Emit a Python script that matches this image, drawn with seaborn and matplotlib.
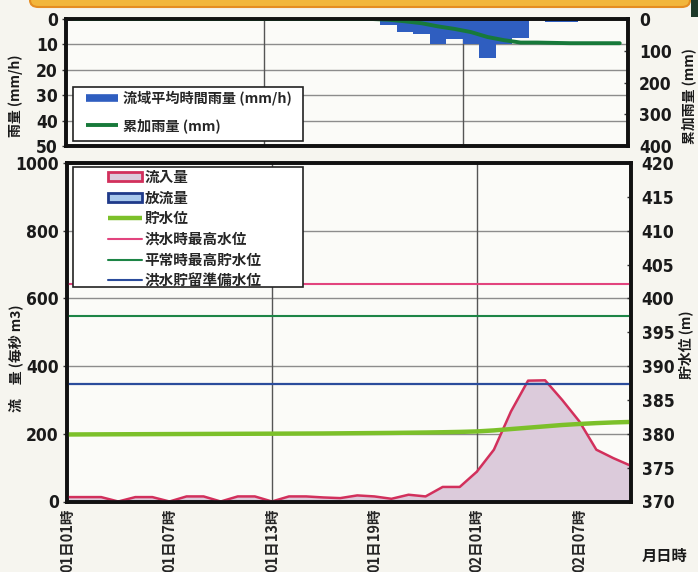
import matplotlib
matplotlib.use("Agg")
import matplotlib.pyplot as plt
import seaborn as sns
import pandas as pd
from matplotlib.patches import Patch, Rectangle, FancyBboxPatch
from matplotlib.lines import Line2D
from matplotlib.font_manager import FontProperties

# ---------------- data ----------------
hours = [0, 1, 2, 3, 4, 5, 6, 7, 8, 9, 10, 11, 12, 13, 14, 15, 16,
         17, 18, 19, 20, 21, 22, 23, 24, 25, 26, 27, 28, 29, 30, 31, 32, 33]
tick_hours = [0, 6, 12, 18, 24, 30]
tick_labels = ["01日01時", "01日07時", "01日13時", "01日19時", "02日01時", "02日07時"]
grid_hours = [12, 24]

# hourly basin-average rainfall (mm/h), one bar per hour
rain_hourly = [0, 0, 0, 0, 0, 0, 0, 0, 0, 0, 0, 0, 0, 0, 0, 0, 0,
               0, 0, 2.2, 5.0, 6.0, 10.0, 8.0, 10.0, 15.5, 10.0, 7.5, 0, 1.0, 1.0, 0, 0, 0]
# cumulative rainfall (mm)
rain_cumulative = [0, 0, 0, 0, 0, 0, 0, 0, 0, 0, 0, 0, 0, 0, 0, 0, 0,
                   0, 0, 2.2, 7.2, 13.2, 23.2, 31.2, 41.2, 56.7, 66.7, 74.2, 74.2, 75.2, 76.2, 76.2, 76.2, 76.2]
# inflow (m3/s)
inflow = [13, 13, 13, 0, 13, 13, 0, 15, 15, 0, 15, 15, 0, 15, 15, 12, 10,
          18, 15, 8, 20, 15, 43, 43, 88, 153, 266, 357, 358, 300, 237, 153, 128, 106]
# outflow (m3/s)
outflow = [0, 0, 0, 0, 0, 0, 0, 0, 0, 0, 0, 0, 0, 0, 0, 0, 0,
           0, 0, 0, 0, 0, 0, 0, 0, 0, 0, 0, 0, 0, 0, 0, 0, 0]
# reservoir water level (m)
water_level = [379.90, 379.91, 379.92, 379.93, 379.94, 379.95, 379.96, 379.97, 379.98, 379.99,
               380.00, 380.01, 380.02, 380.03, 380.04, 380.05, 380.07, 380.09, 380.11, 380.13,
               380.16, 380.19, 380.23, 380.28, 380.35, 380.50, 380.70, 380.90, 381.10, 381.30,
               381.45, 381.58, 381.68, 381.75]
flood_max_level = 402.2        # 洪水時最高水位
normal_max_level = 397.4       # 平常時最高貯水位
flood_prep_level = 387.3       # 洪水貯留準備水位

rain_ticks = [0, 10, 20, 30, 40, 50]
cum_ticks = [0, 100, 200, 300, 400]
flow_ticks = [0, 200, 400, 600, 800, 1000]
level_ticks = [370, 375, 380, 385, 390, 395, 400, 405, 410, 415, 420]

# ---------------- style ----------------
sns.set_theme(style="white")
FONT = ["Noto Sans CJK JP", "DejaVu Sans"]
plt.rcParams["font.family"] = FONT
plt.rcParams["font.weight"] = "bold"
NUM_FP = FontProperties(family="DejaVu Sans", weight="bold", stretch="condensed", size=12.5)

C_BAR = "#2f5ec0"
C_CUM = "#17793a"
C_IN_FILL = "#dccbdb"
C_IN_EDGE = "#d2305c"
C_OUT_FILL = "#a9c8ec"
C_OUT_EDGE = "#1f3a8a"
C_LEVEL = "#7cc02a"
C_FLOOD = "#e2447e"
C_NORMAL = "#1d8546"
C_PREP = "#2b4c9c"
C_GRID = "#8c8c8c"
BG = "#f6f5ef"

W, H = 698, 572


def fx(px):
    return px / W


def fy(py):
    return 1 - py / H


fig = plt.figure(figsize=(W / 100, H / 100), dpi=100)
fig.patch.set_facecolor(BG)

# decorative banner at top
fig.add_artist(FancyBboxPatch((fx(30), fy(7)), fx(660), fy(-20) - fy(7),
                              boxstyle="round,pad=0,rounding_size=0.012",
                              transform=fig.transFigure, facecolor="#f2b63c",
                              edgecolor="#e58d22", lw=1.5, zorder=0))
fig.add_artist(Rectangle((fx(691), fy(17)), fx(20), fy(-5) - fy(17),
                         transform=fig.transFigure, facecolor="#1e3a2a",
                         edgecolor="none", zorder=0))

ax1 = fig.add_axes([fx(66), fy(146), fx(628) - fx(66), fy(19) - fy(146)])
ax2 = fig.add_axes([fx(67), fy(501.5), fx(630.5) - fx(67), fy(163) - fy(501.5)])
for a in (ax1, ax2):
    a.set_facecolor("#fbfbf8")

# ---------------- top: rainfall ----------------
df_rain = pd.DataFrame({"hour_c": [h + 0.5 for h in hours],
                        "rain": rain_hourly, "cum": rain_cumulative})
for g in [10, 20, 30, 40]:
    ax1.axhline(g, color=C_GRID, lw=1.0, zorder=0)
for g in grid_hours:
    ax1.axvline(g, color="#555555", lw=1.0, zorder=0)
sns.barplot(data=df_rain, x="hour_c", y="rain", native_scale=True, width=1.0,
            color=C_BAR, saturation=1, linewidth=0, ax=ax1, zorder=2)
ax1.set_xlim(0, 34)
ax1.set_ylim(50, 0)
ax1.set_yticks(rain_ticks)
ax1.set_xticks([])
ax1.set_xlabel("")
ax1.set_ylabel("")

ax1b = ax1.twinx()
sns.lineplot(data=df_rain, x="hour_c", y="cum", color=C_CUM, lw=2.8, ax=ax1b)
ax1b.set_xlim(0, 34)
ax1b.set_ylim(400, 0)
ax1b.set_yticks(cum_ticks)
ax1b.set_xlabel("")
ax1b.set_ylabel("")

# ---------------- bottom: flow & water level ----------------
df_flow = pd.DataFrame({"hour": hours, "inflow": inflow, "outflow": outflow,
                        "level": water_level})
for g in [200, 400, 600, 800]:
    ax2.axhline(g, color=C_GRID, lw=1.0, zorder=0)
for g in grid_hours:
    ax2.axvline(g, color="#555555", lw=1.0, zorder=0)
ax2.fill_between(df_flow["hour"], 0, df_flow["inflow"], color=C_IN_FILL, lw=0, zorder=1)
sns.lineplot(data=df_flow, x="hour", y="inflow", color=C_IN_EDGE, lw=1.8, ax=ax2, zorder=3)
ax2.fill_between(df_flow["hour"], 0, df_flow["outflow"], color=C_OUT_FILL, lw=0, zorder=2)
sns.lineplot(data=df_flow, x="hour", y="outflow", color=C_OUT_EDGE, lw=2.5, ax=ax2, zorder=4)
ax2.set_xlim(0, 33)
ax2.set_ylim(0, 1000)
ax2.set_yticks(flow_ticks)
ax2.set_xticks(tick_hours)
ax2.set_xticklabels(tick_labels, rotation=90, fontsize=10.5, fontweight="bold",
                    va="top", ha="center")
ax2.set_xlabel("")
ax2.set_ylabel("")

ax2b = ax2.twinx()
ax2b.axhline(flood_max_level, color=C_FLOOD, lw=1.5)
ax2b.axhline(normal_max_level, color=C_NORMAL, lw=1.5)
ax2b.axhline(flood_prep_level, color=C_PREP, lw=1.6)
sns.lineplot(data=df_flow, x="hour", y="level", color=C_LEVEL, lw=3.2, ax=ax2b)
ax2b.set_xlim(0, 33)
ax2b.set_ylim(370, 420)
ax2b.set_yticks(level_ticks)
ax2b.set_xlabel("")
ax2b.set_ylabel("")

# ---------------- axes styling ----------------
for a in (ax1, ax1b, ax2, ax2b):
    for s in a.spines.values():
        s.set_color("#111111")
        s.set_linewidth(2.6)
    a.tick_params(axis="y", length=3, width=1, color="#333333", pad=3)
    for lab in a.get_yticklabels():
        lab.set_fontproperties(NUM_FP)
        lab.set_color("#1a1a1a")
ax1.tick_params(axis="y", direction="out")
ax2.tick_params(axis="y", direction="out")
ax1b.tick_params(axis="y", direction="in", pad=8)
ax2b.tick_params(axis="y", direction="in", pad=8)
ax2.tick_params(axis="x", direction="in", length=4, width=1, pad=5, color="#333333")

# axis titles
fig.text(fx(16), fy(96), "雨量 (mm/h)", rotation=90, ha="center", va="center",
         fontsize=10, fontweight="bold", color="#1a1a1a")
fig.text(fx(689), fy(96), "累加雨量 (mm)", rotation=90, ha="center", va="center",
         fontsize=10, fontweight="bold", color="#1a1a1a")
fig.text(fx(16), fy(358), "流　量 (毎秒 m3)", rotation=90, ha="center", va="center",
         fontsize=10, fontweight="bold", color="#1a1a1a")
fig.text(fx(686), fy(345), "貯水位 (m)", rotation=90, ha="center", va="center",
         fontsize=10, fontweight="bold", color="#1a1a1a")
fig.text(fx(665), fy(556), "月日時", ha="center", va="center",
         fontsize=11, fontweight="bold", color="#1a1a1a")

# ---------------- legends ----------------
fig.add_artist(Rectangle((fx(73), fy(141)), fx(303) - fx(73), fy(87) - fy(141),
                         transform=fig.transFigure, facecolor="white",
                         edgecolor="#222222", lw=1.2, zorder=8))
top_handles = [Line2D([0], [0], color=C_BAR, lw=5.5, solid_capstyle="butt"),
               Line2D([0], [0], color=C_CUM, lw=2.8, solid_capstyle="butt")]
top_labels = ["流域平均時間雨量 (mm/h)", "累加雨量 (mm)"]
leg1 = fig.legend(top_handles, top_labels, loc="upper left",
                  bbox_to_anchor=(fx(86), fy(91)), frameon=False,
                  borderpad=0, borderaxespad=0, handlelength=2.25,
                  handletextpad=0.35, labelspacing=0.85,
                  prop={"family": FONT, "weight": "bold", "size": 10.2})
leg1.set_zorder(9)

fig.add_artist(Rectangle((fx(73), fy(287)), fx(303) - fx(73), fy(167) - fy(287),
                         transform=fig.transFigure, facecolor="white",
                         edgecolor="#222222", lw=1.2, zorder=8))
bot_handles = [Patch(facecolor=C_IN_FILL, edgecolor=C_IN_EDGE, lw=2),
               Patch(facecolor=C_OUT_FILL, edgecolor=C_OUT_EDGE, lw=2),
               Line2D([0], [0], color=C_LEVEL, lw=3.2, solid_capstyle="butt"),
               Line2D([0], [0], color=C_FLOOD, lw=1.5),
               Line2D([0], [0], color=C_NORMAL, lw=1.5),
               Line2D([0], [0], color=C_PREP, lw=1.5)]
bot_labels = ["流入量", "放流量", "貯水位", "洪水時最高水位", "平常時最高貯水位", "洪水貯留準備水位"]
leg2 = fig.legend(bot_handles, bot_labels, loc="upper left",
                  bbox_to_anchor=(fx(108), fy(169)), frameon=False,
                  borderpad=0, borderaxespad=0, handlelength=2.3,
                  handleheight=0.6, handletextpad=0.2, labelspacing=0.32,
                  prop={"family": FONT, "weight": "bold", "size": 10.5})
leg2.set_zorder(9)

fig.savefig("out.png", dpi=100, facecolor=BG)
